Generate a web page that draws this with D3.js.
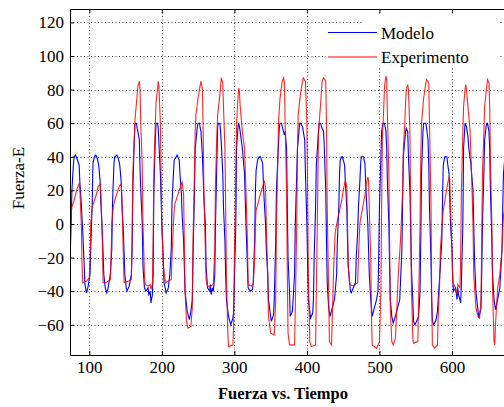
<!DOCTYPE html>
<html>
<head>
<meta charset="utf-8">
<script src="https://cdn.jsdelivr.net/npm/d3@7"></script>
<style>
    html, body { margin: 0; padding: 0; background: #fff; }
    svg { display: block; }
    text { font-family: "Liberation Serif", "Times New Roman", serif; fill: #000; }
</style>
</head>
<body>
<div id="chart"></div>
<script>
// ============================================================
// Data (Tiempo, Fuerza)
// ============================================================
var xTicks = [100, 200, 300, 400, 500, 600];
var yTicks = [-60, -40, -20, 0, 20, 40, 60, 80, 100, 120];
var seriesNames = ["Modelo", "Experimento"];
var seriesColors = ["#0000ff", "#ff0000"];

var modelo = [
    [73,-28],[75,0],[76,20],[78,35],[79,40],[81,41],[83,39],[86,35],[87,25],[89,12],[90,3],[91,-5],[93,-25],[94,-36],[96,-41],
    [98,-38],[101,-30],[102,-15],[104,12],[105,36],[107,40],[109,41],[111,39],[113,35],[115,25],[116,12],[118,-5],[120,-30],[122,-38],[124,-41],
    [126,-38],[129,-30],[131,-15],[132,12],[134,36],[135,40],[138,41],[140,39],[142,35],[144,25],[145,12],[147,-5],[149,-30],[151,-38],[152,-40],
    [155,-37],[158,-30],[159,-15],[160,20],[162,50],[163,60],[165,60],[166,57],[167,55],[169,50],[170,32],[171,20],[173,0],[174,-25],[176,-38],
    [178,-40],[181,-38],[182,-42],[184,-40],[185,-47],[187,-42],[188,-30],[189,20],[191,50],[192,60],[194,60],[195,57],[196,48],[198,30],[199,15],
    [200,0],[202,-20],[203,-35],[206,-41],[209,-38],[211,-30],[213,-15],[214,12],[216,30],[217,38],[220,40],[221,41],[224,38],[225,30],[227,18],
    [228,5],[230,-10],[231,-25],[232,-40],[235,-52],[238,-57],[240,-52],[242,-45],[243,-20],[245,20],[246,45],[249,58],[250,60],[252,60],[253,57],
    [254,55],[256,40],[257,28],[258,15],[260,0],[261,-25],[263,-38],[266,-40],[267,-36],[268,-42],[270,-38],[271,-40],[273,-30],[274,0],[276,40],
    [277,58],[278,60],[280,60],[281,55],[282,48],[284,30],[285,10],[287,-10],[288,-30],[289,-45],[292,-55],[295,-60],[298,-56],[299,-52],[300,-35],
    [302,0],[303,45],[305,58],[306,60],[307,58],[308,55],[311,45],[312,40],[314,30],[315,15],[316,0],[318,-25],[319,-38],[322,-40],[325,-39],
    [326,-35],[328,-10],[329,20],[330,32],[332,38],[334,40],[336,40],[339,36],[340,25],[341,15],[343,0],[344,-15],[346,-30],[347,-45],[350,-55],
    [351,-58],[354,-54],[355,-45],[357,-10],[358,20],[360,40],[362,58],[363,60],[365,60],[366,58],[369,53],[370,55],[372,45],[373,10],[374,-20],
    [376,-40],[377,-55],[380,-52],[381,-45],[383,-30],[384,0],[386,30],[387,45],[390,60],[391,60],[394,58],[395,55],[397,50],[398,30],[400,0],
    [401,-25],[402,-45],[405,-56],[408,-53],[409,-45],[410,-20],[412,10],[413,35],[416,55],[417,60],[419,60],[420,58],[423,55],[424,45],[426,20],
    [427,-10],[428,-35],[430,-50],[432,-55],[435,-50],[438,-45],[439,-40],[441,-30],[442,-10],[444,10],[445,30],[446,38],[448,40],[449,40],[452,35],
    [453,25],[455,10],[456,-10],[457,-25],[459,-35],[460,-40],[461,-41],[464,-38],[467,-35],[468,-20],[470,-5],[471,10],[473,25],[474,35],[475,40],
    [478,40],[480,36],[481,25],[482,15],[484,0],[485,-15],[486,-30],[488,-45],[490,-55],[493,-50],[496,-45],[498,-40],[499,-20],[500,10],[502,40],
    [503,55],[505,60],[507,60],[509,55],[510,45],[511,25],[513,0],[514,-25],[515,-45],[517,-55],[519,-59],[522,-55],[525,-50],[528,-45],[529,-35],
    [531,-15],[532,15],[533,40],[535,50],[536,55],[537,57],[539,55],[540,40],[542,20],[543,0],[544,-25],[546,-45],[547,-58],[549,-60],[551,-58],
    [554,-55],[556,-40],[557,-10],[558,30],[560,55],[561,60],[564,60],[565,57],[567,50],[568,35],[569,10],[571,-20],[572,-45],[573,-58],[575,-60],
    [578,-57],[580,-52],[581,-45],[584,-25],[586,-10],[587,15],[588,35],[590,40],[593,40],[594,36],[596,30],[597,15],[598,0],[600,-15],[601,-30],
    [602,-40],[605,-38],[607,-45],[608,-38],[609,-42],[612,-47],[613,-35],[615,0],[616,45],[618,60],[620,58],[622,52],[623,46],[626,36],[627,30],
    [629,20],[630,0],[631,-20],[633,-40],[636,-52],[637,-56],[640,-50],[641,-30],[642,0],[644,30],[645,50],[647,58],[648,60],[649,60],[651,55],
    [652,45],[653,20],[655,-10],[656,-30],[658,-45],[660,-51],[663,-45],[666,-38],[667,-30],[669,-15],[670,10],[671,30],[673,40],[676,42]
];

var experimento = [
    [73,3],[75,6],[76,10],[79,14],[82,19],[84,22],[86,24],[87,20],[89,0],[90,-25],[91,-35],[96,-34],[100,-32],[101,-20],[102,0],
    [104,10],[107,14],[110,18],[112,22],[115,24],[116,18],[118,-10],[119,-35],[123,-35],[129,-33],[130,-20],[131,0],[133,10],[135,14],[138,18],
    [141,22],[144,24],[145,15],[147,-20],[148,-35],[154,-34],[158,-33],[159,-10],[160,30],[162,50],[163,62],[165,72],[167,82],[169,85],[170,80],
    [171,60],[173,35],[174,0],[176,-30],[177,-36],[181,-37],[184,-36],[185,-39],[187,-36],[188,-10],[189,30],[191,60],[192,72],[194,80],[195,85],
    [196,82],[198,60],[199,30],[200,0],[202,-25],[205,-35],[209,-34],[213,-33],[214,-20],[216,0],[217,8],[218,12],[221,16],[224,20],[227,24],
    [228,25],[230,18],[231,-10],[232,-40],[234,-58],[236,-62],[240,-61],[242,-50],[243,-10],[245,30],[246,55],[247,65],[250,75],[253,83],[254,85],
    [256,80],[257,55],[258,20],[260,-15],[261,-33],[263,-37],[267,-37],[271,-36],[273,-15],[274,25],[276,55],[277,65],[280,77],[282,87],[284,84],
    [285,70],[287,45],[288,10],[289,-30],[291,-65],[292,-73],[298,-72],[299,-60],[300,-20],[302,30],[303,60],[305,75],[306,81],[307,79],[308,70],
    [311,55],[314,45],[316,20],[318,-10],[319,-36],[323,-37],[326,-36],[328,-20],[329,0],[330,8],[333,13],[336,18],[339,22],[341,26],[343,22],
    [344,0],[346,-30],[347,-55],[350,-65],[355,-66],[357,-45],[358,0],[360,40],[361,62],[363,75],[366,85],[368,87],[369,84],[370,60],[372,20],
    [373,-30],[374,-65],[376,-72],[383,-72],[384,-50],[386,0],[387,45],[388,65],[391,77],[394,85],[395,87],[398,85],[400,60],[401,20],[402,-30],
    [404,-70],[406,-73],[412,-72],[413,-40],[415,20],[416,55],[419,72],[421,85],[423,87],[426,85],[427,60],[428,10],[430,-40],[431,-70],[434,-72],
    [435,-55],[437,-25],[439,-5],[442,2],[445,8],[448,14],[450,20],[453,26],[455,22],[456,0],[457,-25],[459,-36],[464,-37],[470,-35],[471,-20],
    [473,0],[474,3],[477,10],[480,17],[482,24],[484,28],[485,26],[486,10],[488,-20],[489,-55],[490,-72],[496,-74],[500,-70],[502,-40],[503,10],
    [504,50],[506,70],[507,82],[509,88],[510,86],[511,65],[513,30],[514,-10],[515,-50],[517,-70],[519,-72],[522,-68],[524,-50],[526,-30],[529,-10],
    [532,20],[533,45],[535,60],[536,72],[537,80],[539,83],[540,80],[542,55],[543,15],[544,-35],[546,-68],[547,-71],[553,-70],[554,-45],[556,0],
    [557,40],[558,60],[561,75],[564,84],[565,86],[568,84],[569,60],[571,15],[572,-40],[573,-72],[576,-74],[580,-72],[581,-55],[583,-35],[584,-15],
    [586,-3],[588,8],[591,16],[594,24],[596,28],[597,26],[598,10],[600,-15],[601,-35],[604,-37],[607,-42],[608,-36],[611,-38],[612,-20],[613,20],
    [615,55],[616,70],[618,80],[619,83],[620,80],[622,70],[625,55],[627,30],[629,0],[630,-30],[633,-50],[636,-55],[638,-56],[640,-45],[641,-10],
    [642,30],[644,55],[645,70],[648,82],[649,86],[651,84],[652,70],[653,40],[655,0],[656,-40],[658,-70],[659,-72],[660,-60],[662,-45],[663,-38],
    [666,-30],[669,-15],[671,5],[673,10],[676,20]
];

// ============================================================
// Layout
// ============================================================
var W = 504, H = 407;
var margin = { left: 70, top: 9 };
var plotW = 440, plotH = 346;   // axes run past the right edge of the window
var serif = "'Liberation Serif', 'Times New Roman', serif";

var svg = d3.select("#chart").append("svg")
    .attr("width", W)
    .attr("height", H);

var g = svg.append("g")
    .attr("transform", "translate(" + margin.left + "," + margin.top + ")");

var x = d3.scaleLinear().domain([73.4, 680]).range([0, plotW]);
var y = d3.scaleLinear().domain([-78, 128]).range([plotH, 0]);

svg.append("defs").append("clipPath").attr("id", "clip")
    .append("rect").attr("width", plotW).attr("height", plotH);

// grid (dotted)
var grid = g.append("g").attr("stroke", "#333").attr("stroke-width", 1)
    .attr("stroke-dasharray", "1,2.5");
grid.selectAll("line.gx").data(xTicks).enter().append("line")
    .attr("x1", function (d) { return Math.round(x(d)) + 0.5; })
    .attr("x2", function (d) { return Math.round(x(d)) + 0.5; })
    .attr("y1", 0).attr("y2", plotH);
grid.selectAll("line.gy").data(yTicks).enter().append("line")
    .attr("y1", function (d) { return Math.round(y(d)) + 0.5; })
    .attr("y2", function (d) { return Math.round(y(d)) + 0.5; })
    .attr("x1", 0).attr("x2", plotW);

// ============================================================
// Series
// ============================================================
var line = d3.line()
    .x(function (d) { return x(d[0]); })
    .y(function (d) { return y(d[1]); });

var lines = g.append("g").attr("clip-path", "url(#clip)");
[modelo, experimento].forEach(function (data, i) {
    lines.append("path")
        .datum(data)
        .attr("fill", "none")
        .attr("stroke", seriesColors[i])
        .attr("stroke-width", 1.1)
        .attr("stroke-opacity", i === 1 ? 0.85 : 1)
        .attr("d", line);
});

// ============================================================
// Axes
// ============================================================
var fontSize = "17px";

var yAxis = g.append("g")
    .call(d3.axisLeft(y).tickValues(yTicks).tickSize(-4).tickSizeOuter(0).tickPadding(6));
var xAxis = g.append("g")
    .attr("transform", "translate(0," + plotH + ")")
    .call(d3.axisBottom(x).tickValues(xTicks).tickSize(-4).tickSizeOuter(0).tickPadding(6));
var topAxis = g.append("g")
    .call(d3.axisTop(x).tickValues(xTicks).tickSize(-4).tickSizeOuter(0).tickFormat(""));

[yAxis, xAxis, topAxis].forEach(function (a) {
    a.attr("font-family", null).attr("font-size", null);
    a.selectAll("text")
        .style("font-size", fontSize)
        .style("font-family", serif)
        .attr("fill", "#000");
    a.selectAll("path.domain").attr("stroke", "#000");
    a.selectAll(".tick line").attr("stroke", "#000");
});

// ============================================================
// Legend
// ============================================================
var lg = svg.append("g");
lg.append("rect").attr("x", 326).attr("y", 25).attr("width", 174).attr("height", 42).attr("fill", "#fff");
lg.append("rect").attr("x", 363).attr("y", 15).attr("width", 137).attr("height", 12).attr("fill", "#fff");
seriesNames.forEach(function (name, i) {
    var ly = 32.5 + i * 24.5;
    lg.append("line")
        .attr("x1", 328).attr("x2", 377)
        .attr("y1", ly).attr("y2", ly)
        .attr("stroke", seriesColors[i]).attr("stroke-width", 1);
    lg.append("text")
        .attr("x", 381).attr("y", ly + 6)
        .style("font-size", fontSize)
        .style("font-family", serif)
        .text(name);
});

// ============================================================
// Labels
// ============================================================
svg.append("text")
    .attr("transform", "translate(24,178) rotate(-90)")
    .attr("text-anchor", "middle")
    .style("font-size", fontSize)
    .style("font-family", serif)
    .text("Fuerza-E");

svg.append("text")
    .attr("x", 283).attr("y", 399)
    .attr("text-anchor", "middle")
    .style("font-size", "16.5px")
    .style("font-family", serif)
    .style("font-weight", "bold")
    .text("Fuerza vs. Tiempo");
</script>
</body>
</html>
